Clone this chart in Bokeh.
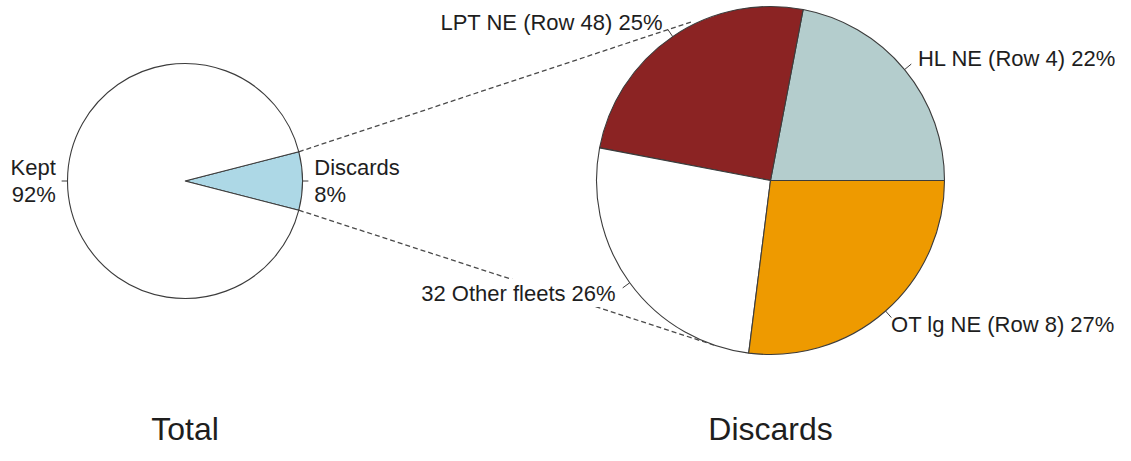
import numpy as np
from bokeh.plotting import figure
from bokeh.models import Range1d
from bokeh.core.properties import value
from bokeh.embed import file_html
from bokeh.resources import INLINE

# ---- data ----
total_labels = ["Discards", "Kept"]
total_values = [8, 92]
total_colors = ["#ADD8E6", "#FFFFFF"]

disc_labels = ["HL NE (Row 4)", "LPT NE (Row 48)", "32 Other fleets", "OT lg NE (Row 8)"]
disc_values = [22, 25, 26, 27]
disc_colors = ["#B4CDCD", "#8B2323", "#FFFFFF", "#EE9A00"]

titles = ["Total", "Discards"]

# ---- layout (pixel-like data units; y is up) ----
W, H = 1115, 445
IMG_H = 461
def Y(img_y):
    return IMG_H - img_y

FONT = value("Liberation Sans")
EDGE = "#3c3c3c"
TXT = "#1e1e1e"

p = figure(width=W, height=H, output_backend="svg", toolbar_location=None,
           x_range=Range1d(0, W), y_range=Range1d(IMG_H - H, IMG_H),
           min_border=0, match_aspect=False)
p.axis.visible = False
p.grid.visible = False
p.outline_line_color = None
p.background_fill_color = "white"
p.border_fill_color = "white"

left_c = (184.5, Y(180.5)); left_r = 117.5
right_c = (770.0, Y(180.0)); right_r = 174.0


def pie_geom(values, start):
    v = np.asarray(values, dtype=float)
    frac = v / v.sum()
    ends = start + np.cumsum(frac) * 2 * np.pi
    starts = ends - frac * 2 * np.pi
    mids = (starts + ends) / 2
    return frac, starts, ends, mids

# left pie: Discards slice centred on 3 o'clock
lfrac, lst, len_, lmid = pie_geom(total_values, -total_values[0] / sum(total_values) * np.pi)
rfrac, rst, ren, rmid = pie_geom(disc_values, 0.0)

# connector dashed lines (from the Discards slice edges to the big pie)
a_top = len_[0]
a_bot = lst[0]
x0t = left_c[0] + left_r * np.cos(a_top); y0t = left_c[1] + left_r * np.sin(a_top)
x0b = left_c[0] + left_r * np.cos(a_bot); y0b = left_c[1] + left_r * np.sin(a_bot)
ang_t = np.deg2rad(116.0); ang_b = np.deg2rad(251.0)
x1t = right_c[0] + 177 * np.cos(ang_t); y1t = right_c[1] + 177 * np.sin(ang_t)
x1b = right_c[0] + 174 * np.cos(ang_b); y1b = right_c[1] + 174 * np.sin(ang_b)
p.segment(x0=[x0t, x0b], y0=[y0t, y0b], x1=[x1t, x1b], y1=[y1t, y1b],
          line_color="#4a4a4a", line_width=1.3, line_dash="5 3")

# pies
p.wedge(x=left_c[0], y=left_c[1], radius=left_r, start_angle=lst, end_angle=len_,
        fill_color=total_colors, line_color=EDGE, line_width=1.1, direction="anticlock")
p.wedge(x=right_c[0], y=right_c[1], radius=right_r, start_angle=rst, end_angle=ren,
        fill_color=disc_colors, line_color=EDGE, line_width=1.1, direction="anticlock")


def ticks_and_labels(c, r, mids):
    xs0 = c[0] + r * np.cos(mids); ys0 = c[1] + r * np.sin(mids)
    xs1 = c[0] + 1.05 * r * np.cos(mids); ys1 = c[1] + 1.05 * r * np.sin(mids)
    p.segment(x0=xs0, y0=ys0, x1=xs1, y1=ys1, line_color=EDGE, line_width=1)
    lx = c[0] + 1.1 * r * np.cos(mids); ly = c[1] + 1.1 * r * np.sin(mids)
    align = ["left" if np.cos(m) > 0 else "right" for m in mids]
    return lx, ly, align

# left labels
ltexts = [f"{l}\n{v}%" for l, v in zip(total_labels, total_values)]
lx, ly, la = ticks_and_labels(left_c, left_r, lmid)

# right labels
rtexts = [f"{l} {v}%" for l, v in zip(disc_labels, disc_values)]
rx, ry, ra = ticks_and_labels(right_c, right_r, rmid)
rx = rx + np.array([0, 0, 0, -6])   # keep the last label inside the page

# white box behind the "Other fleets" label (interrupts the dashed line)
i_other = 2
p.quad(left=[rx[i_other] - 210], right=[rx[i_other] + 3],
       top=[ry[i_other] + 14], bottom=[ry[i_other] - 14],
       fill_color="white", line_color=None)

p.text(x=lx, y=ly, text=ltexts, text_align=la, text_baseline="middle",
       text_font=FONT, text_font_size="22px", text_color=TXT, text_line_height=1.08)
p.text(x=rx, y=ry, text=rtexts, text_align=ra, text_baseline="middle",
       text_font=FONT, text_font_size="22px", text_color=TXT)

# titles
p.text(x=[left_c[0], right_c[0]], y=[Y(428), Y(428)], text=titles,
       text_align="center", text_baseline="middle",
       text_font=FONT, text_font_size="32px", text_color=TXT)

open("out.html", "w").write(file_html(p, INLINE))
